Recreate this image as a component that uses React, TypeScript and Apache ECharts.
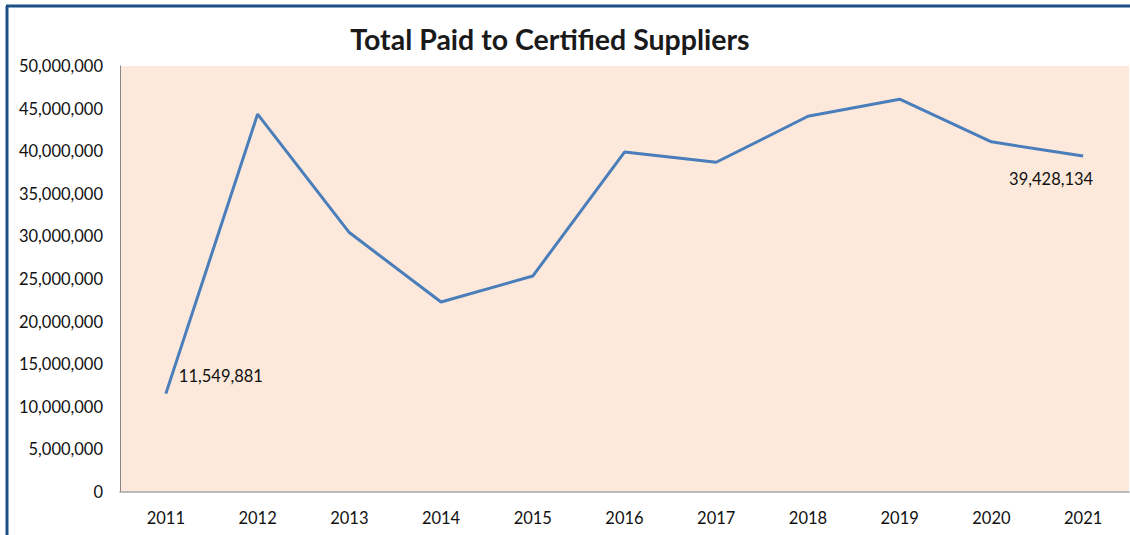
import React, { useEffect, useRef } from "react";
import * as echarts from "echarts";

const years = ["2011", "2012", "2013", "2014", "2015", "2016", "2017", "2018", "2019", "2020", "2021"];
const totals = [11549881, 44350000, 30450000, 22300000, 25350000, 39900000, 38700000, 44100000, 46100000, 41100000, 39428134];

const fmt = (v: number) => Math.round(v).toLocaleString("en-US");

export default function App() {
  const ref = useRef<HTMLDivElement>(null);
  useEffect(() => {
    if (!ref.current) return;
    const chart = echarts.init(ref.current, undefined, { renderer: "svg" });
    const font = "Lato, 'Open Sans', sans-serif";
    const data = totals.map((v, i) => {
      if (i === 0) {
        return { value: v, label: { show: true, position: "right", distance: 13, offset: [0, -18], formatter: () => fmt(v) } };
      }
      if (i === totals.length - 1) {
        return { value: v, label: { show: true, position: "bottom", distance: 14, offset: [-32, 0], formatter: () => fmt(v) } };
      }
      return v;
    });
    chart.setOption({
      animation: false,
      backgroundColor: "#ffffff",
      title: {
        text: "Total Paid to Certified Suppliers",
        left: 545,
        textAlign: "center",
        top: 19,
        textStyle: { fontFamily: font, fontSize: 28.5, fontWeight: "bold", color: "#1a1a1a" },
      },
      graphic: [
        { type: "line", shape: { x1: 6, y1: 6, x2: 1130, y2: 6 }, style: { stroke: "#1d4f87", lineWidth: 3 } },
        { type: "line", shape: { x1: 7, y1: 6, x2: 7, y2: 535 }, style: { stroke: "#1d4f87", lineWidth: 3 } },
      ],
      grid: { left: 120, right: 1, top: 66, bottom: 43, backgroundColor: "#fce9db", show: true, borderWidth: 0 },
      xAxis: {
        type: "category",
        data: years,
        boundaryGap: true,
        axisLine: { show: true, lineStyle: { color: "#a6a6a6", width: 1.5 } },
        axisTick: { show: false },
        axisLabel: { color: "#111", fontFamily: font, fontSize: 16.5, margin: 17 },
      },
      yAxis: {
        type: "value",
        min: 0,
        max: 50000000,
        interval: 5000000,
        axisLine: { show: true, lineStyle: { color: "#868686", width: 1 } },
        axisTick: { show: false },
        splitLine: { show: false },
        axisLabel: { color: "#111", fontFamily: font, fontSize: 16.5, margin: 17, formatter: (v: number) => fmt(v) },
      },
      series: [
        {
          type: "line",
          data,
          symbol: "circle",
          symbolSize: 0,
          showSymbol: true,
          lineStyle: { color: "#4a7ebb", width: 3 },
          itemStyle: { color: "#4a7ebb" },
          label: { color: "#111", fontFamily: font, fontSize: 16.5 },
        },
      ],
    });
    return () => chart.dispose();
  }, []);
  return (
    <div
      ref={ref}
      style={{ position: "fixed", left: 0, top: 0, width: 1130, height: 535 }}
    />
  );
}
